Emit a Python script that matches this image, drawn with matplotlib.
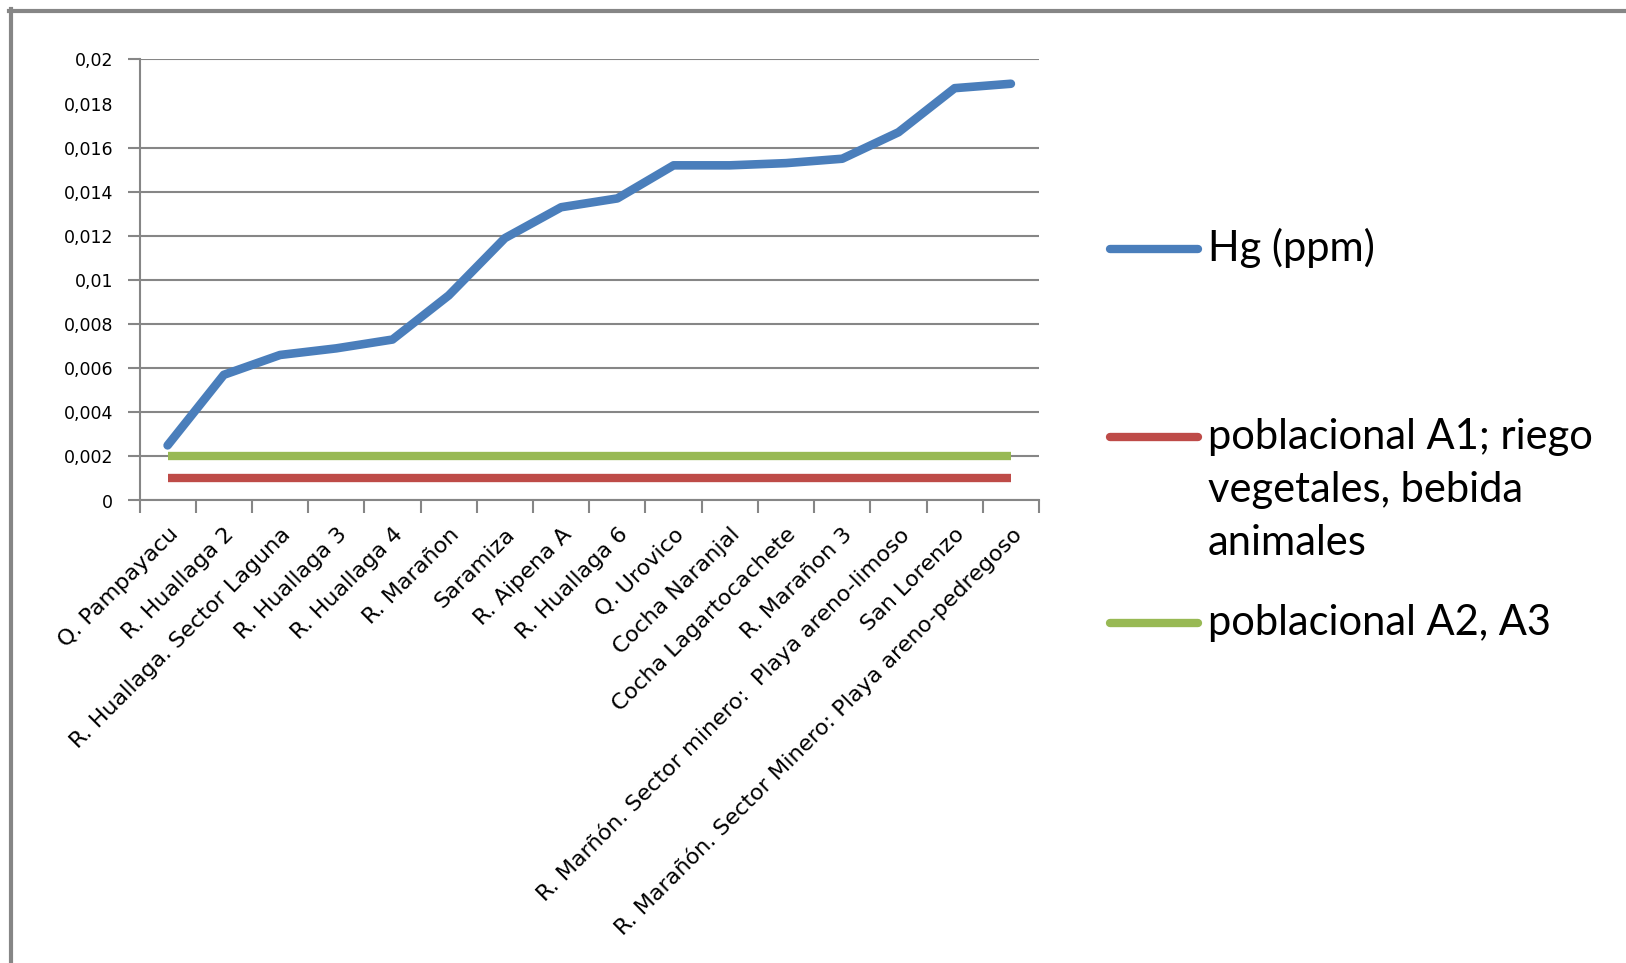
import numpy as np
import matplotlib
matplotlib.use("Agg")
import matplotlib.pyplot as plt
from matplotlib.lines import Line2D

# puntos de muestreo y concentraciones de mercurio
puntos = [
    "Q. Pampayacu",
    "R. Huallaga 2",
    "R. Huallaga. Sector Laguna",
    "R. Huallaga 3",
    "R. Huallaga 4",
    "R. Marañon",
    "Saramiza",
    "R. Aipena A",
    "R. Huallaga 6",
    "Q. Urovico",
    "Cocha Naranjal",
    "Cocha Lagartocachete",
    "R. Marañon 3",
    "R. Marñón. Sector minero:  Playa areno-limoso",
    "San Lorenzo",
    "R. Marañón. Sector Minero: Playa areno-pedregoso",
]
hg_ppm = [0.0025, 0.0057, 0.0066, 0.0069, 0.0073, 0.0093, 0.0119, 0.0133,
          0.0137, 0.0152, 0.0152, 0.0153, 0.0155, 0.0167, 0.0187, 0.0189]
eca_a1 = [0.001, 0.001, 0.001, 0.001, 0.001, 0.001, 0.001, 0.001,
          0.001, 0.001, 0.001, 0.001, 0.001, 0.001, 0.001, 0.001]
eca_a2_a3 = [0.002, 0.002, 0.002, 0.002, 0.002, 0.002, 0.002, 0.002,
             0.002, 0.002, 0.002, 0.002, 0.002, 0.002, 0.002, 0.002]
y_ticks = [0, 0.002, 0.004, 0.006, 0.008, 0.01, 0.012, 0.014, 0.016, 0.02]
y_sin_linea = [0.018]   # etiqueta sin linea de division

series = [
    ("Hg (ppm)", hg_ppm, "#4A7EBB"),
    ("poblacional A1; riego\nvegetales, bebida\nanimales", eca_a1, "#BE4B48"),
    ("poblacional A2, A3", eca_a2_a3, "#98B954"),
]

W, H = 1626, 963
gris = "#868686"


def fmt(v):
    return ("%g" % round(v, 3)).replace(".", ",")


fig = plt.figure(figsize=(W / 100, H / 100), dpi=100)
ax = fig.add_axes([139.5 / W, 1 - 500.5 / H, (1039 - 139.5) / W, 441 / H])

x = np.arange(len(puntos))
ax.plot(x, hg_ppm, color=series[0][2], lw=6.2, solid_capstyle="round",
        solid_joinstyle="round", zorder=3)
ax.plot(x, eca_a1, color=series[1][2], lw=6, solid_capstyle="butt", zorder=3)
ax.plot(x, eca_a2_a3, color=series[2][2], lw=6, solid_capstyle="butt", zorder=3)

ax.set_xlim(-0.5, len(puntos) - 0.5)
ax.set_ylim(0, 0.02)

# marcas entre categorias, etiquetas en el centro
ax.set_xticks(np.arange(len(puntos) + 1) - 0.5)
ax.set_xticklabels([])
ax.set_xticks(x, minor=True)
ax.set_xticklabels(puntos, minor=True, rotation=45, ha="right", va="top",
                   rotation_mode="anchor", fontsize=16, family="DejaVu Sans")
ax.tick_params(axis="x", which="major", direction="out", length=9, width=1.5, color=gris)
ax.tick_params(axis="x", which="minor", length=0, pad=17)

ax.set_yticks(y_ticks)
ax.set_yticklabels([fmt(v) for v in y_ticks], fontsize=12.5, family="DejaVu Sans")
ax.set_yticks(y_sin_linea, minor=True)
ax.set_yticklabels([fmt(v) for v in y_sin_linea], minor=True, fontsize=12.5,
                   family="DejaVu Sans")
ax.tick_params(axis="y", which="major", direction="out", length=9, width=1.5,
               color=gris, pad=10)
ax.tick_params(axis="y", which="minor", length=0, pad=19)

ax.grid(True, axis="y", which="major", color=gris, lw=1.5)
ax.set_axisbelow(True)

for lado in ["top", "right"]:
    ax.spines[lado].set_visible(False)
for lado in ["left", "bottom"]:
    ax.spines[lado].set_color(gris)
    ax.spines[lado].set_linewidth(1.5)

# marco del area del grafico
fig.add_artist(Line2D([9 / W, 1], [1 - 11.3 / H, 1 - 11.3 / H], color=gris, lw=3))
fig.add_artist(Line2D([11 / W, 11 / W], [0, 1 - 9.3 / H], color=gris, lw=3))

# leyenda
leyenda_y = [249, 436.6, 623]
paso = 53
for (nombre, _, color), yy in zip(series, leyenda_y):
    fy = 1 - yy / H
    fig.add_artist(Line2D([1110 / W, 1198 / W], [fy, fy], color=color, lw=6,
                          solid_capstyle="round"))
    for i, linea in enumerate(nombre.split("\n")):
        fig.text(1208 / W, 1 - (yy + 12 + i * paso) / H, linea, fontsize=30,
                 family="Lato", ha="left", va="baseline")

fig.savefig("out.png", dpi=100, facecolor="white")
